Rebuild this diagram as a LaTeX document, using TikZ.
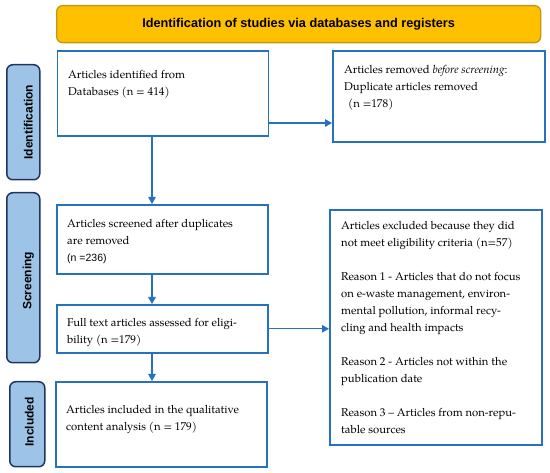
\documentclass[tikz,border=0pt]{standalone}
\usepackage{fontspec}
\setmainfont{TeX Gyre Pagella}
\setsansfont{Liberation Sans}
\usetikzlibrary{arrows.meta}
\definecolor{boxblue}{RGB}{38,114,190}
\definecolor{sidefill}{RGB}{157,195,230}
\definecolor{sidedraw}{RGB}{31,52,96}
\definecolor{headfill}{RGB}{255,192,0}
\definecolor{headdraw}{RGB}{196,150,20}
\begin{document}
\begin{tikzpicture}[
		x=1pt, y=-1pt,
		box/.style={draw=boxblue, line width=1.6pt, anchor=north west, inner sep=0pt},
		side/.style={draw=sidedraw, fill=sidefill, line width=1.5pt, rounded corners=6pt, anchor=north west, inner sep=0pt},
		sidetext/.style={rotate=90, inner sep=0pt, font=\sffamily\bfseries\fontsize{12}{14}\selectfont},
		txt/.style={anchor=north west, inner sep=0pt, align=left, font=\fontsize{11.3}{17}\selectfont},
		arr/.style={draw=boxblue, line width=1.2pt, -{Triangle[length=7pt,width=7.5pt]}}
	]
	\useasboundingbox (0,0) rectangle (550,473);
	\node[draw=headdraw, fill=headfill, line width=1.3pt, rounded corners=6pt, anchor=north west,
		minimum width=484pt, minimum height=37pt, font=\sffamily\bfseries\fontsize{12.7}{15}\selectfont] (head) at (56,5)
		{Identification of studies via databases and registers};
	\node[side, minimum width=33pt, minimum height=115pt] (idside) at (6,64) {};
	\node[side, minimum width=33pt, minimum height=170pt] (scrside) at (6,192) {};
	\node[side, minimum width=35pt, minimum height=85pt] (incside) at (9,381) {};
	\node[sidetext] (idlabel) at ([xshift=5pt]idside.center) {Identification};
	\node[sidetext] (scrlabel) at ([xshift=5pt,yshift=-3pt]scrside.center) {Screening};
	\node[sidetext] (inclabel) at ([xshift=2pt,yshift=2.5pt]incside.center) {Included};
	\node[box, minimum width=211pt, minimum height=85pt] (idbox) at (56.5,50) {};
	\node[box, minimum width=212pt, minimum height=91pt] (rmbox) at (332,50) {};
	\node[box, minimum width=211pt, minimum height=69pt] (scrbox) at (56,204) {};
	\node[box, minimum width=211pt, minimum height=48pt] (fullbox) at (56,304) {};
	\node[box, minimum width=211pt, minimum height=85pt] (incbox) at (55,381) {};
	\node[box, minimum width=212pt, minimum height=235pt] (exbox) at (329,209) {};
	\node[txt] (idtxt) at (68,70) {Articles identified from\\Databases (n = 414)};
	\node[txt] (rmtxt) at (344,65) {Articles removed \emph{before screening}:\\Duplicate articles removed\\\hspace*{4pt}(n =178)};
	\node[txt] (scrtxt) at (67,219) {Articles screened after duplicates\\are removed\\{\sffamily\fontsize{10.5}{17}\selectfont(n =236)}};
	\node[txt] (fulltxt) at (67,318) {Full text articles assessed for eligi-\\bility (n =179)};
	\node[txt] (inctxt) at (66,405) {Articles included in the qualitative\\content analysis (n = 179)};
	\node[txt] (extxt) at (341,221) {Articles excluded because they did\\not meet eligibility criteria (n=57)\\[17pt]
		Reason 1 - Articles that do not focus\\on e-waste management, environ-\\mental pollution, informal recy-\\cling and health impacts\\[17pt]
		Reason 2 - Articles not within the\\publication date\\[17pt]
		Reason 3 -- Articles from non-repu-\\table sources};
	\coordinate (spine) at (152,0);
	\coordinate (rowa) at (0,123);
	\draw[arr] (idbox.south -| spine) -- (scrbox.north -| spine);
	\draw[arr] (scrbox.south -| spine) -- (fullbox.north -| spine);
	\draw[arr] (fullbox.south -| spine) -- (incbox.north -| spine);
	\draw[arr] (idbox.east |- rowa) -- (rmbox.west |- rowa);
	\draw[arr] (fullbox.east) -- (fullbox.east -| exbox.west);
\end{tikzpicture}
\end{document}
